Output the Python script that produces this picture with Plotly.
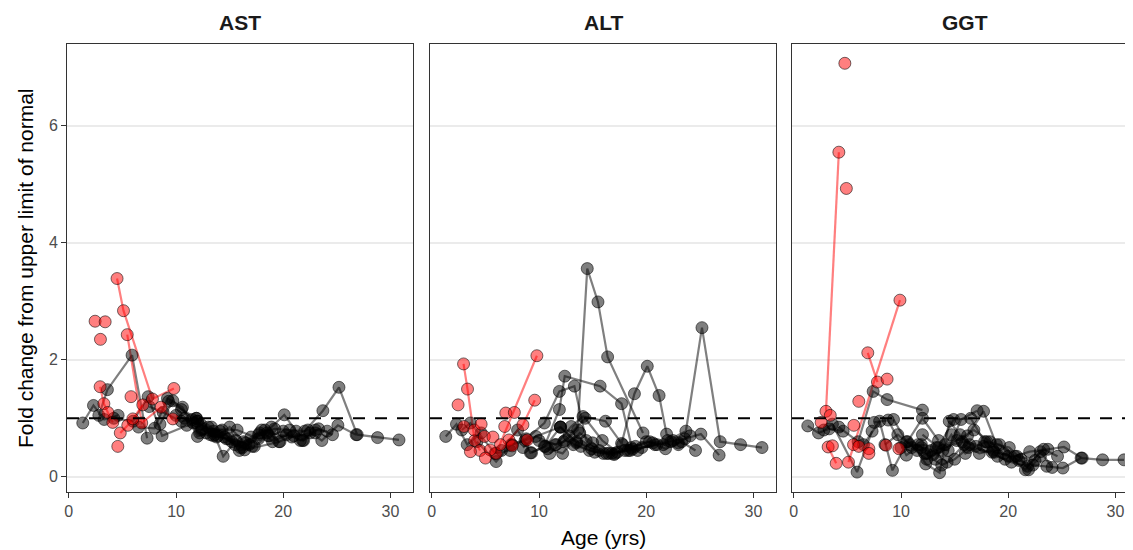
import plotly.graph_objects as go

# ---------------- data ----------------
PANELS = ["AST", "ALT", "GGT"]
X_TICKS = [0, 10, 20, 30]
Y_TICKS = [0, 2, 4, 6]
ULN = 1

# black subjects: ages shared across the three tests
BLACK_AGES = [
    [1.3, 2.3, 3.3, 4.6],
    [2.8, 3.6, 5.9, 7.3],
    [4.2, 6.0, 7.4, 8.7, 12.0],
    [6.5, 8.0, 9.2, 10.6, 12.0, 13.5],
    [7.5, 8.8, 10.5, 11.9, 13.3, 14.4, 15.6, 17.1],
    [8.5, 9.7, 11.5, 12.3, 13.6, 14.5, 15.5, 16.4, 19.7],
    [9.3, 10.5, 11.9, 12.4, 15.7, 17.7, 18.7],
    [10.0, 11.6, 13.0, 14.1, 16.2, 17.7, 18.9, 20.1, 21.2, 21.9, 23.0],
    [11.0, 12.4, 13.9, 15.2, 16.8, 18.3, 19.6, 21.0, 22.3, 23.6, 25.1, 26.8],
    [12.0, 13.5, 14.9, 16.5, 17.8, 19.2, 20.6, 22.0, 23.7, 25.2, 26.9, 28.8, 30.8],
    [12.8, 14.3, 15.9, 17.3, 18.6, 20.0, 21.6, 23.0, 24.1],
    [13.2, 14.7, 16.0, 17.0, 18.0, 19.0, 20.3, 21.8, 23.3, 24.6],
    [10.8, 12.2, 13.8, 15.0, 16.3, 18.5, 20.8, 22.5],
]
AST_BLACK = [
    [0.92, 1.22, 0.98, 1.05],
    [1.05, 1.49, 2.08, 0.66],
    [1.00, 0.95, 1.37, 0.70, 0.95],
    [0.85, 0.83, 1.34, 1.19, 0.69, 0.78],
    [1.20, 1.10, 0.95, 1.00, 0.85, 0.35, 0.62, 0.52],
    [0.90, 1.30, 0.98, 0.90, 0.72, 0.68, 0.55, 0.46, 0.60],
    [1.29, 1.15, 1.00, 0.82, 0.80, 0.65, 0.70],
    [1.05, 0.92, 0.85, 0.78, 0.50, 0.72, 0.85, 1.06, 0.78, 0.62, 0.75],
    [0.88, 0.80, 0.70, 0.60, 0.55, 0.80, 0.60, 0.70, 0.80, 0.62, 0.88, 0.72],
    [0.95, 0.70, 0.65, 0.58, 0.75, 0.82, 0.80, 0.78, 1.13, 1.53, 0.72, 0.67, 0.63],
    [0.75, 0.80, 0.45, 0.52, 0.70, 0.78, 0.62, 0.80, 0.78],
    [0.72, 0.65, 0.50, 0.68, 0.80, 0.60, 0.72, 0.62, 0.82, 0.72],
    [1.00, 0.75, 0.68, 0.85, 0.60, 0.75, 0.68, 0.75],
]
ALT_BLACK = [
    [0.69, 0.90, 0.55, 0.75],
    [0.80, 0.92, 0.40, 0.45],
    [0.60, 0.26, 0.55, 0.62, 0.85],
    [0.45, 0.80, 0.41, 0.52, 0.85, 0.58],
    [0.55, 0.65, 0.92, 1.46, 1.55, 0.62, 0.45, 0.40],
    [0.50, 0.69, 0.55, 0.60, 0.80, 3.56, 2.99, 2.05, 0.75],
    [0.41, 0.52, 1.15, 1.72, 1.55, 1.25, 0.47],
    [0.62, 0.55, 0.86, 1.03, 0.95, 0.57, 1.42, 1.89, 1.39, 0.73, 0.55],
    [0.40, 0.62, 0.52, 0.42, 0.40, 0.45, 0.50, 0.55, 0.60, 0.65, 0.73, 0.37],
    [0.85, 0.60, 0.48, 0.40, 0.55, 0.45, 0.58, 0.62, 0.78, 2.55, 0.60, 0.55, 0.50],
    [0.70, 1.00, 0.62, 0.42, 0.50, 0.60, 0.55, 0.58, 0.70],
    [0.55, 0.45, 0.40, 0.38, 0.45, 0.52, 0.60, 0.48, 0.60, 0.45],
    [0.48, 0.40, 0.75, 0.58, 0.40, 0.45, 0.55, 0.62],
]
GGT_BLACK = [
    [0.87, 0.75, 0.82, 0.78],
    [0.80, 0.90, 0.08, 0.78],
    [0.85, 0.60, 1.46, 1.32, 1.14],
    [0.55, 0.95, 0.11, 0.60, 1.00, 0.62],
    [0.93, 0.97, 0.37, 0.55, 0.50, 0.45, 0.98, 1.13],
    [0.55, 0.72, 0.45, 0.22, 0.07, 0.95, 0.72, 0.55, 0.30],
    [0.98, 0.60, 0.50, 0.40, 0.60, 0.52, 0.42],
    [0.50, 0.55, 0.38, 0.55, 0.70, 1.12, 0.55, 0.50, 0.30, 0.12, 0.35],
    [0.50, 0.30, 0.45, 0.62, 0.80, 0.60, 0.40, 0.28, 0.20, 0.18, 0.15, 0.32],
    [0.72, 0.50, 0.98, 1.00, 0.60, 0.55, 0.35, 0.43, 0.47, 0.51, 0.32, 0.29, 0.29],
    [0.45, 0.25, 0.55, 0.40, 0.45, 0.35, 0.12, 0.43, 0.16],
    [0.30, 0.72, 0.40, 0.52, 0.60, 0.35, 0.25, 0.18, 0.47, 0.35],
    [0.55, 0.40, 0.20, 0.30, 0.50, 0.42, 0.35, 0.28],
]

# red subjects (connected visits) and single red visits, per test
AST_RED_AGES = [[4.5, 5.1, 7.8, 9.8], [5.45, 6.8, 8.6, 9.7], [2.92, 3.27, 3.64, 4.1], [4.8, 5.5, 5.97, 6.9]]
AST_RED_VALS = [[3.39, 2.84, 1.33, 1.51], [2.43, 0.92, 1.19, 0.99], [1.54, 1.25, 1.10, 0.93], [0.75, 0.88, 0.99, 1.23]]
AST_RED_SINGLE_AGES = [2.45, 3.39, 2.95, 4.57, 5.8]
AST_RED_SINGLE_VALS = [2.66, 2.65, 2.35, 0.52, 1.37]

ALT_RED_AGES = [[2.96, 3.33, 4.0, 4.5], [6.0, 9.8], [7.2, 8.5, 9.6]]
ALT_RED_VALS = [[1.93, 1.50, 0.62, 0.45], [0.40, 2.07], [0.63, 0.89, 1.31]]
ALT_RED_SINGLE_AGES = [2.45, 3.0, 3.95, 4.6, 4.9, 5.7, 6.4, 6.8, 3.6, 5.45, 5.0, 6.9, 7.7, 8.9, 7.5]
ALT_RED_SINGLE_VALS = [1.23, 0.86, 0.80, 0.90, 0.69, 0.68, 0.55, 0.86, 0.43, 0.46, 0.32, 1.09, 1.10, 0.63, 0.53]

GGT_RED_AGES = [[3.0, 4.2], [5.1, 9.9], [6.9, 7.8], [3.2, 3.95]]
GGT_RED_VALS = [[1.12, 5.55], [0.25, 3.02], [2.12, 1.62], [0.51, 0.23]]
GGT_RED_SINGLE_AGES = [4.76, 4.9, 8.7, 6.06, 3.4, 2.55, 5.6, 3.6, 5.57, 6.06, 7.0, 7.0, 8.6, 9.8]
GGT_RED_SINGLE_VALS = [7.07, 4.93, 1.67, 1.29, 1.05, 0.93, 0.88, 0.53, 0.55, 0.52, 0.48, 0.40, 0.54, 0.48]

BLACK_VALS = [AST_BLACK, ALT_BLACK, GGT_BLACK]
RED_AGES = [AST_RED_AGES, ALT_RED_AGES, GGT_RED_AGES]
RED_VALS = [AST_RED_VALS, ALT_RED_VALS, GGT_RED_VALS]
RED_SINGLE_AGES = [AST_RED_SINGLE_AGES, ALT_RED_SINGLE_AGES, GGT_RED_SINGLE_AGES]
RED_SINGLE_VALS = [AST_RED_SINGLE_VALS, ALT_RED_SINGLE_VALS, GGT_RED_SINGLE_VALS]

# ---------------- styling ----------------
FONT = "Liberation Sans, Arial, Helvetica, sans-serif"
OFF = 8                      # default page body margin
W, H = 1133 - OFF, 550 - OFF
ML, MR, MT, MB = 67 - OFF, 0, 44 - OFF, 58
PW = W - ML - MR
PH = H - MT - MB

BLACK_LINE = "rgba(0,0,0,0.5)"
RED_LINE = "rgba(255,0,0,0.5)"
BLACK_FILL = "rgba(0,0,0,0.5)"
RED_FILL = "rgba(255,0,0,0.5)"
EDGE = "rgba(0,0,0,0.55)"
TITLE_SIZE = 21
TICK_SIZE = 16

# panel extents in page pixels
panel_px = [(67, 413), (430, 776), (792, 1133)]
domains = [[(a - 67) / PW, (b - 67) / PW] for a, b in panel_px]
PX_PER_UNIT = 10.72
X0 = -0.17
x_ranges = [[X0, X0 + (b - a) / PX_PER_UNIT] for a, b in panel_px]
Y_RANGE = [-0.26, 7.40]


def joined(age_lists, val_lists):
    xs, ys = [], []
    for a, v in zip(age_lists, val_lists):
        xs += list(a) + [None]
        ys += list(v) + [None]
    return xs, ys


def flat(lists):
    out = []
    for l in lists:
        out += list(l)
    return out


fig = go.Figure()
for i in range(3):
    xa = "x" if i == 0 else f"x{i+1}"
    ya = "y" if i == 0 else f"y{i+1}"
    bx, by = joined(BLACK_AGES, BLACK_VALS[i])
    rx, ry = joined(RED_AGES[i], RED_VALS[i])
    fig.add_trace(go.Scatter(x=bx, y=by, mode="lines", xaxis=xa, yaxis=ya,
                             line=dict(color=BLACK_LINE, width=2.2), hoverinfo="skip", showlegend=False))
    fig.add_trace(go.Scatter(x=rx, y=ry, mode="lines", xaxis=xa, yaxis=ya,
                             line=dict(color=RED_LINE, width=2.2), hoverinfo="skip", showlegend=False))
    fig.add_trace(go.Scatter(x=flat(BLACK_AGES), y=flat(BLACK_VALS[i]), mode="markers",
                             xaxis=xa, yaxis=ya, showlegend=False,
                             marker=dict(size=12, color=BLACK_FILL, line=dict(color=EDGE, width=1))))
    fig.add_trace(go.Scatter(x=flat(RED_AGES[i]) + RED_SINGLE_AGES[i],
                             y=flat(RED_VALS[i]) + RED_SINGLE_VALS[i], mode="markers",
                             xaxis=xa, yaxis=ya, showlegend=False,
                             marker=dict(size=12, color=RED_FILL, line=dict(color=EDGE, width=1))))
    fig.add_shape(type="line", xref=f"{xa} domain", yref=ya, x0=0, x1=1, y0=ULN, y1=ULN,
                  line=dict(color="black", width=2, dash="12px,10px"))

layout = dict(
    width=W, height=H, autosize=False,
    margin=dict(l=ML, r=MR, t=MT, b=MB, pad=0),
    paper_bgcolor="white", plot_bgcolor="white",
    font=dict(family=FONT, color="#4D4D4D", size=TICK_SIZE),
    showlegend=False,
)
for i in range(3):
    xk = "xaxis" if i == 0 else f"xaxis{i+1}"
    yk = "yaxis" if i == 0 else f"yaxis{i+1}"
    layout[xk] = dict(domain=domains[i], range=x_ranges[i], tickvals=X_TICKS,
                      ticktext=[str(t) for t in X_TICKS], ticks="outside", ticklen=5,
                      tickwidth=1, tickcolor="#333333", showgrid=False, zeroline=False,
                      showline=True, linecolor="#333333", linewidth=1, mirror=True,
                      anchor="y" if i == 0 else f"y{i+1}",
                      tickfont=dict(size=TICK_SIZE, color="#4D4D4D", family=FONT))
    ydict = dict(domain=[0, 1], range=Y_RANGE, tickvals=Y_TICKS, showgrid=True,
                 gridcolor="#EBEBEB", gridwidth=1.5, zeroline=False, showline=True,
                 linecolor="#333333", linewidth=1,
                 anchor="x" if i == 0 else f"x{i+1}")
    if i == 0:
        ydict.update(ticks="outside", ticklen=5, tickwidth=1, tickcolor="#333333",
                     ticktext=[str(t) for t in Y_TICKS], showticklabels=True, mirror=True,
                     tickfont=dict(size=TICK_SIZE, color="#4D4D4D", family=FONT))
    else:
        ydict.update(ticks="", showticklabels=False, matches="y",
                     mirror=True if i == 1 else False)
    layout[yk] = ydict

annotations = []
centers = [240, 603, 965]      # page pixels
for name, cx in zip(PANELS, centers):
    annotations.append(dict(text=f"<b>{name}</b>", xref="paper", yref="paper",
                            x=(cx - 67) / PW, y=1 + 22 / PH, xanchor="center", yanchor="middle",
                            showarrow=False, font=dict(size=TITLE_SIZE, color="#1A1A1A", family=FONT)))
annotations.append(dict(text="Age (yrs)", xref="paper", yref="paper",
                        x=(603 - 67) / PW, y=-(537 - 492) / PH, xanchor="center",
                        yanchor="middle", showarrow=False,
                        font=dict(size=TITLE_SIZE, color="black", family=FONT)))
annotations.append(dict(text="Fold change from upper limit of normal", xref="paper", yref="paper",
                        x=(25 - 67) / PW, y=0.5, xanchor="center", yanchor="middle",
                        textangle=-90, showarrow=False,
                        font=dict(size=TITLE_SIZE, color="black", family=FONT)))
layout["annotations"] = annotations
fig.update_layout(**layout)
fig.write_html("out.html")
